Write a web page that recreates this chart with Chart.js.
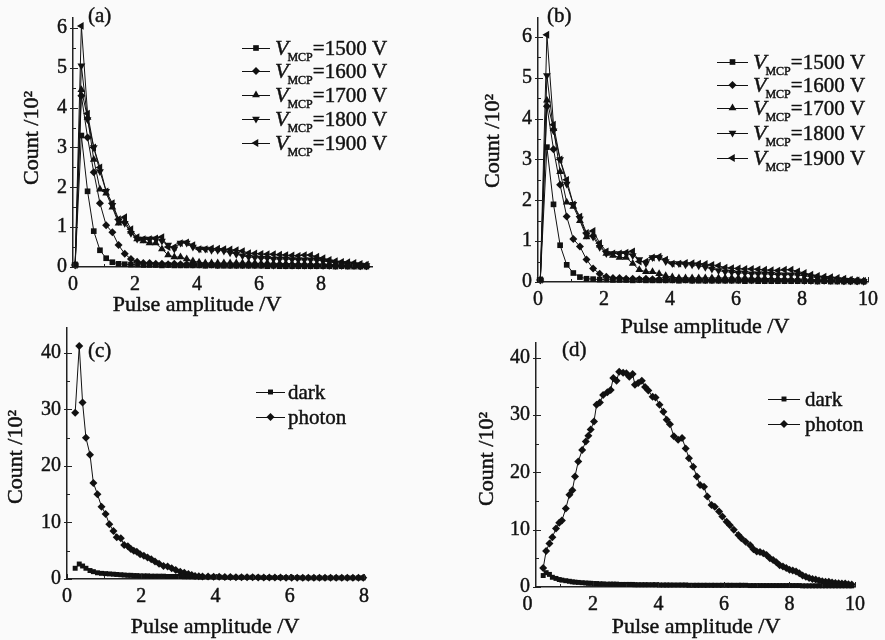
<!DOCTYPE html>
<html>
<head>
<meta charset="utf-8">
<script src="https://cdn.jsdelivr.net/npm/chart.js"></script>
<style>
    body { margin: 0; background: #fafafa; }
    #wrap { position: relative; width: 885px; height: 640px; overflow: hidden; }
    canvas { position: absolute; }
</style>
</head>
<body>
<div id="wrap">
    <canvas id="pa" width="440" height="320" style="left:0;top:0"></canvas>
    <canvas id="pb" width="445" height="340" style="left:440px;top:0"></canvas>
    <canvas id="pc" width="440" height="340" style="left:0;top:300px"></canvas>
    <canvas id="pd" width="445" height="320" style="left:440px;top:320px"></canvas>
</div>
<script>
// ---- data (pulse amplitude in V, count in 10^2) ----
var ampAB = [0.07, 0.27, 0.47, 0.67, 0.87, 1.07, 1.27, 1.47, 1.67, 1.87,
    2.07, 2.27, 2.47, 2.67, 2.87, 3.07, 3.27, 3.47, 3.67, 3.87,
    4.07, 4.27, 4.47, 4.67, 4.87, 5.07, 5.27, 5.47, 5.67, 5.87,
    6.07, 6.27, 6.47, 6.67, 6.87, 7.07, 7.27, 7.47, 7.67, 7.87,
    8.07, 8.27, 8.47, 8.67, 8.87, 9.07, 9.27, 9.47, 9.67, 9.87];
var cnt1500 = [0.05, 3.3, 1.9, 0.9, 0.42, 0.22, 0.12, 0.08, 0.07, 0.06,
    0.06, 0.05, 0.05, 0.05, 0.04, 0.05, 0.04, 0.04, 0.04, 0.04,
    0.04, 0.03, 0.04, 0.03, 0.03, 0.03, 0.03, 0.03, 0.03, 0.03,
    0.03, 0.02, 0.03, 0.02, 0.02, 0.02, 0.02, 0.02, 0.02, 0.02,
    0.02, 0.02, 0.01, 0.02, 0.01, 0.01, 0.01, 0.01, 0.01, 0.01];
var cnt1600 = [0.05, 4.3, 3.25, 2.38, 1.6, 1.05, 0.87, 0.55, 0.33, 0.2,
    0.13, 0.1, 0.1, 0.08, 0.08, 0.07, 0.08, 0.07, 0.07, 0.06,
    0.06, 0.06, 0.06, 0.05, 0.06, 0.05, 0.05, 0.05, 0.05, 0.05,
    0.05, 0.05, 0.04, 0.05, 0.04, 0.04, 0.04, 0.04, 0.04, 0.04,
    0.03, 0.03, 0.03, 0.03, 0.03, 0.03, 0.02, 0.02, 0.02, 0.02];
var cnt1700 = [0.05, 4.45, 3.75, 2.7, 1.95, 1.85, 1.5, 1.1, 1.15, 0.9,
    0.7, 0.65, 0.6, 0.6, 0.45, 0.3, 0.25, 0.25, 0.2, 0.15,
    0.12, 0.1, 0.1, 0.1, 0.1, 0.1, 0.1, 0.1, 0.1, 0.1,
    0.09, 0.1, 0.09, 0.09, 0.09, 0.08, 0.08, 0.08, 0.07, 0.07,
    0.07, 0.06, 0.06, 0.05, 0.05, 0.04, 0.04, 0.03, 0.03, 0.02];
var cnt1800 = [0.05, 5.05, 3.7, 3.0, 2.4, 1.9, 1.55, 1.15, 1.1, 0.85,
    0.7, 0.7, 0.7, 0.7, 0.65, 0.55, 0.45, 0.6, 0.6, 0.5,
    0.45, 0.45, 0.42, 0.42, 0.4, 0.36, 0.32, 0.28, 0.25, 0.24,
    0.22, 0.22, 0.2, 0.2, 0.2, 0.19, 0.18, 0.18, 0.18, 0.17,
    0.15, 0.13, 0.1, 0.09, 0.08, 0.06, 0.05, 0.04, 0.03, 0.02];
var cnt1900 = [0.05, 6.05, 3.85, 3.0, 2.5, 1.9, 1.6, 1.2, 1.25, 0.95,
    0.75, 0.7, 0.7, 0.72, 0.75, 0.5, 0.5, 0.6, 0.62, 0.55,
    0.45, 0.45, 0.47, 0.46, 0.45, 0.44, 0.42, 0.4, 0.35, 0.34,
    0.33, 0.32, 0.32, 0.31, 0.3, 0.29, 0.28, 0.3, 0.3, 0.26,
    0.22, 0.18, 0.15, 0.13, 0.12, 0.1, 0.08, 0.06, 0.04, 0.03];
var voltages = ['1500', '1600', '1700', '1800', '1900'];

var ampC = [0.22, 0.33, 0.42, 0.51, 0.62, 0.71, 0.82, 0.93, 1.04, 1.14,
    1.25, 1.34, 1.45, 1.54, 1.64, 1.72, 1.8, 1.88, 1.97, 2.07,
    2.17, 2.27, 2.37, 2.48, 2.6, 2.71, 2.82, 2.93, 3.05, 3.16,
    3.27, 3.36, 3.45, 3.55, 3.65, 3.8, 3.95, 4.1, 4.25, 4.4,
    4.55, 4.7, 4.85, 5.0, 5.15, 5.3, 5.45, 5.6, 5.75, 5.9,
    6.05, 6.2, 6.35, 6.5, 6.65, 6.8, 6.95, 7.1, 7.25, 7.4,
    7.55, 7.7, 7.85, 7.98];
var photonC = [29.4, 41.2, 31.2, 25.0, 22.0, 17.0, 15.0, 12.8, 11.5, 9.7,
    8.5, 7.4, 7.2, 6.0, 5.8, 5.3, 5.0, 4.8, 4.4, 4.1,
    3.8, 3.5, 3.1, 2.7, 2.3, 2.2, 1.9, 1.6, 1.3, 1.1,
    0.9, 0.7, 0.55, 0.5, 0.45, 0.45, 0.4, 0.4, 0.35, 0.35,
    0.3, 0.3, 0.3, 0.3, 0.25, 0.25, 0.25, 0.25, 0.25, 0.2,
    0.2, 0.2, 0.2, 0.2, 0.2, 0.2, 0.2, 0.2, 0.2, 0.2,
    0.2, 0.2, 0.2, 0.2];
var darkC = [1.9, 2.65, 2.3, 1.9, 1.5, 1.3, 1.1, 1.0, 0.95, 0.9,
    0.85, 0.8, 0.75, 0.7, 0.65, 0.65, 0.6, 0.6, 0.55, 0.55,
    0.55, 0.5, 0.5, 0.5, 0.5, 0.45, 0.45, 0.45, 0.45, 0.4,
    0.4, 0.4, 0.4, 0.4, 0.35, 0.35, 0.35, 0.35, 0.3, 0.3,
    0.3, 0.3, 0.3, 0.3, 0.3, 0.25, 0.25, 0.25, 0.25, 0.25,
    0.25, 0.25, 0.2, 0.2, 0.2, 0.2, 0.2, 0.2, 0.2, 0.2,
    0.2, 0.2, 0.2, 0.2];

var ampD = [0.48, 0.57, 0.67, 0.76, 0.87, 0.97, 1.05, 1.17, 1.28, 1.37,
    1.45, 1.55, 1.67, 1.78, 1.86, 1.93, 2.03, 2.11, 2.21, 2.31,
    2.44, 2.54, 2.62, 2.72, 2.8, 2.92, 3.02, 3.11, 3.21, 3.28,
    3.38, 3.49, 3.59, 3.69, 3.82, 3.91, 4.03, 4.15, 4.25, 4.35,
    4.47, 4.6, 4.72, 4.83, 4.93, 5.06, 5.17, 5.27, 5.39, 5.49,
    5.62, 5.72, 5.85, 5.95, 6.08, 6.18, 6.3, 6.44, 6.53, 6.66,
    6.8, 6.9, 7.0, 7.1, 7.2, 7.3, 7.4, 7.5, 7.6, 7.7,
    7.8, 7.9, 8.0, 8.1, 8.2, 8.3, 8.4, 8.5, 8.6, 8.7,
    8.8, 8.9, 9.0, 9.1, 9.2, 9.3, 9.4, 9.5, 9.6, 9.7,
    9.8, 9.9];
var photonD = [3.3, 6.3, 7.6, 8.7, 10.2, 11.2, 11.6, 13.7, 16.1, 16.9,
    19.3, 21.9, 23.9, 25.4, 26.4, 27.5, 28.9, 31.8, 32.2, 33.5,
    34.0, 34.4, 36.5, 36.0, 37.6, 37.4, 37.3, 36.7, 37.2, 35.3,
    35.6, 36.0, 34.9, 34.3, 33.2, 33.1, 31.8, 30.6, 29.2, 28.4,
    26.3, 25.7, 26.0, 24.2, 22.5, 21.0, 19.3, 17.8, 17.5, 15.8,
    14.3, 14.0, 13.2, 12.3, 11.4, 10.8, 10.0, 9.1, 8.5, 7.9,
    7.3, 6.6, 6.2, 6.1, 5.9, 5.6, 5.0, 4.7, 4.3, 3.8,
    3.6, 3.3, 3.0, 2.9, 2.7, 2.4, 2.0, 1.8, 1.55, 1.4,
    1.3, 1.15, 1.0, 0.9, 0.9, 0.8, 0.7, 0.65, 0.6, 0.6,
    0.5, 0.45];
var darkD = [2.0, 2.5, 2.2, 1.7, 1.5, 1.3, 1.2, 1.1, 1.0, 0.9,
    0.85, 0.8, 0.75, 0.7, 0.65, 0.65, 0.6, 0.6, 0.55, 0.55,
    0.5, 0.5, 0.5, 0.5, 0.45, 0.45, 0.45, 0.45, 0.45, 0.4,
    0.4, 0.4, 0.4, 0.4, 0.4, 0.4, 0.35, 0.35, 0.35, 0.35,
    0.35, 0.35, 0.35, 0.35, 0.3, 0.3, 0.3, 0.3, 0.3, 0.3,
    0.3, 0.3, 0.3, 0.3, 0.3, 0.3, 0.3, 0.3, 0.3, 0.3,
    0.25, 0.25, 0.25, 0.25, 0.25, 0.25, 0.25, 0.25, 0.25, 0.25,
    0.25, 0.25, 0.25, 0.25, 0.25, 0.25, 0.2, 0.2, 0.2, 0.2,
    0.2, 0.2, 0.2, 0.2, 0.2, 0.2, 0.2, 0.2, 0.2, 0.2,
    0.2, 0.2];
var legendCD = ['dark', 'photon'];

// tick labels
var tickXA = [0, 2, 4, 6, 8];
var tickXB = [0, 2, 4, 6, 8, 10];
var tickXC = [0, 2, 4, 6, 8];
var tickXD = [0, 2, 4, 6, 8, 10];
var tickYAB = [0, 1, 2, 3, 4, 5, 6];
var tickYCD = [0, 10, 20, 30, 40];

var FONT = '"Liberation Serif", "Times New Roman", serif';
var INK = '#111';
var STROKE = 0.45;  // a touch of weight, the printed face is heavier

// marker shapes for the legends, same geometry as Chart.js points
function mark(ctx, style, rot, x, y, r) {
    ctx.beginPath();
    if (style === 'rect') {
        var h = r * Math.SQRT1_2;
        ctx.rect(x - h, y - h, 2 * h, 2 * h);
    } else if (style === 'rectRot') {
        ctx.moveTo(x, y - r); ctx.lineTo(x + r, y); ctx.lineTo(x, y + r); ctx.lineTo(x - r, y);
    } else {
        var t = rot * Math.PI / 180;
        for (var i = 0; i < 3; i++) {
            var px = x + Math.sin(t) * r, py = y - Math.cos(t) * r;
            if (i === 0) ctx.moveTo(px, py); else ctx.lineTo(px, py);
            t += 2 * Math.PI / 3;
        }
    }
    ctx.closePath();
    ctx.fill();
}

function txt(ctx, s, x, y) {
    ctx.fillText(s, x, y);
    ctx.strokeText(s, x, y);
}

// inward ticks, axis titles, panel tag and legend
var deco = {
    id: 'deco',
    afterDraw: function (chart, args, o) {
        var ctx = chart.ctx, a = chart.chartArea, sx = chart.scales.x, sy = chart.scales.y;
        ctx.save();
        ctx.strokeStyle = '#222';
        ctx.lineWidth = 1;
        ctx.beginPath();
        var k, v, p, major;
        for (k = Math.ceil(sx.min / o.xMinor - 1e-6); k * o.xMinor <= sx.max + 1e-6; k++) {
            v = k * o.xMinor;
            major = Math.abs(v / o.xMajor - Math.round(v / o.xMajor)) < 1e-6;
            p = Math.round(sx.getPixelForValue(v)) + 0.5;
            ctx.moveTo(p, a.bottom); ctx.lineTo(p, a.bottom - (major ? 5 : 3));
        }
        for (k = Math.ceil(sy.min / o.yMinor - 1e-6); k * o.yMinor <= sy.max + 1e-6; k++) {
            v = k * o.yMinor;
            major = Math.abs(v / o.yMajor - Math.round(v / o.yMajor)) < 1e-6;
            p = Math.round(sy.getPixelForValue(v)) + 0.5;
            ctx.moveTo(a.left - (major ? 3 : 0), p); ctx.lineTo(a.left + (major ? 5 : 3), p);
        }
        ctx.stroke();

        ctx.fillStyle = INK;
        ctx.strokeStyle = INK;
        ctx.lineWidth = STROKE;
        ctx.font = '22px ' + FONT;
        ctx.textAlign = 'center';
        ctx.textBaseline = 'alphabetic';
        txt(ctx, o.xTitle[0], o.xTitle[1], o.xTitle[2]);

        ctx.save();
        ctx.translate(o.yTitle[1], o.yTitle[2]);
        ctx.rotate(-Math.PI / 2);
        ctx.textBaseline = 'middle';
        txt(ctx, o.yTitle[0], 0, 0);
        ctx.restore();

        ctx.font = '21px ' + FONT;
        ctx.textAlign = 'left';
        ctx.textBaseline = 'middle';
        txt(ctx, o.tag[0], o.tag[1], o.tag[2]);

        var lg = o.legend;
        ctx.textBaseline = 'alphabetic';
        lg.rows.forEach(function (ry, i) {
            var ds = chart.data.datasets[i];
            ctx.lineWidth = 1;
            ctx.beginPath();
            ctx.moveTo(lg.x0, ry + 0.5); ctx.lineTo(lg.x1, ry + 0.5);
            ctx.stroke();
            ctx.lineWidth = STROKE;
            mark(ctx, ds.pointStyle, ds.pointRotation || 0, (lg.x0 + lg.x1) / 2, ry, ds.pointRadius);
            var tx = lg.tx;
            if (lg.mcp) {
                ctx.font = 'italic 22px ' + FONT;
                txt(ctx, 'V', tx, ry + 7);
                tx += ctx.measureText('V').width - 1;
                ctx.font = '12px ' + FONT;
                txt(ctx, 'MCP', tx, ry + 13);
                tx += ctx.measureText('MCP').width;
                ctx.font = '21px ' + FONT;
                txt(ctx, '=' + lg.labels[i] + ' V', tx, ry + 7);
            } else {
                ctx.font = '21px ' + FONT;
                txt(ctx, lg.labels[i], tx, ry + 7);
            }
        });
        ctx.restore();
    }
};

function pts(xs, ys, xmax) {
    return xs.map(function (x, i) { return { x: x, y: ys[i] }; })
        .filter(function (p) { return p.x <= xmax; });
}

function series(data, style, rot, r) {
    return {
        data: data,
        borderColor: INK,
        borderWidth: 1,
        pointStyle: style,
        pointRotation: rot,
        pointRadius: r,
        pointBackgroundColor: INK,
        pointBorderColor: INK,
        pointBorderWidth: 0,
        tension: 0,
        clip: false
    };
}

function axis(min, max, ticks, size, isX) {
    return {
        type: 'linear',
        min: min,
        max: max,
        bounds: 'data',
        afterBuildTicks: function (s) { s.ticks = ticks.map(function (v) { return { value: v }; }); },
        afterFit: function (s) { if (isX) s.height = size; else s.width = size; },
        grid: { display: false, drawTicks: false },
        border: { display: true, color: '#222', width: 1.5 },
        ticks: {
            autoSkip: false,
            maxRotation: 0,
            padding: 6,
            color: INK,
            textStrokeColor: INK,
            textStrokeWidth: STROKE,
            font: { family: FONT, size: 20, lineHeight: 1.2 }
        }
    };
}

function panel(id, sets, pad, x, y, deco_opts) {
    return new Chart(document.getElementById(id), {
        type: 'line',
        data: { datasets: sets },
        options: {
            responsive: false,
            animation: false,
            devicePixelRatio: 1,
            layout: { padding: pad },
            plugins: { legend: { display: false }, tooltip: { enabled: false }, deco: deco_opts },
            scales: { x: x, y: y }
        },
        plugins: [deco]
    });
}

function vmcpSets(xmax) {
    return [
        series(pts(ampAB, cnt1500, xmax), 'rect', 0, 4),
        series(pts(ampAB, cnt1600, xmax), 'rectRot', 0, 4),
        series(pts(ampAB, cnt1700, xmax), 'triangle', 0, 4.5),
        series(pts(ampAB, cnt1800, xmax), 'triangle', 180, 4.5),
        series(pts(ampAB, cnt1900, xmax), 'triangle', 270, 4.5)
    ];
}

panel('pa', vmcpSets(9.6), { left: 0, top: 12, right: 68, bottom: 0 },
    axis(0, 9.65, tickXA, 53, true), axis(0, 6.25, tickYAB, 73, false), {
        xMinor: 1, xMajor: 2, yMinor: 0.5, yMajor: 1,
        xTitle: ['Pulse amplitude /V', 197, 311],
        yTitle: ['Count /10\u00b2', 32, 138],
        tag: ['(a)', 88, 16],
        legend: { x0: 242, x1: 270, tx: 275, rows: [48, 71, 95, 119, 143], labels: voltages, mcp: true }
    });

panel('pb', vmcpSets(10), { left: 0, top: 15, right: 17, bottom: 0 },
    axis(0, 10, tickXB, 58, true), axis(0, 6.46, tickYAB, 98, false), {
        xMinor: 1, xMajor: 2, yMinor: 0.5, yMajor: 1,
        xTitle: ['Pulse amplitude /V', 265, 333],
        yTitle: ['Count /10\u00b2', 53, 141],
        tag: ['(b)', 107, 16],
        legend: { x0: 277, x1: 308, tx: 313, rows: [62, 85, 108, 133, 158], labels: voltages, mcp: true }
    });

panel('pc', [
        series(pts(ampC, darkC, 8), 'rect', 0, 3.5),
        series(pts(ampC, photonC, 8), 'rectRot', 0, 4)
    ], { left: 0, top: 28, right: 76, bottom: 0 },
    axis(0, 8, tickXC, 61, true), axis(0, 44.4, tickYCD, 67, false), {
        xMinor: 1, xMajor: 2, yMinor: 5, yMajor: 10,
        xTitle: ['Pulse amplitude /V', 215, 333],
        yTitle: ['Count /10\u00b2', 16, 157],
        tag: ['(c)', 88, 51],
        legend: { x0: 256, x1: 285, tx: 288, rows: [92, 117], labels: legendCD, mcp: false }
    });

panel('pd', [
        series(pts(ampD, darkD, 10), 'rect', 0, 3.5),
        series(pts(ampD, photonD, 10), 'rectRot', 0, 4)
    ], { left: 0, top: 23, right: 30, bottom: 0 },
    axis(0.26, 10, tickXD, 53, true), axis(0, 42.6, tickYCD, 96, false), {
        xMinor: 1, xMajor: 2, yMinor: 5, yMajor: 10,
        xTitle: ['Pulse amplitude /V', 256, 313],
        yTitle: ['Count /10\u00b2', 47, 139],
        tag: ['(d)', 122, 30],
        legend: { x0: 328, x1: 360, tx: 365, rows: [79, 104], labels: legendCD, mcp: false }
    });
</script>
</body>
</html>
